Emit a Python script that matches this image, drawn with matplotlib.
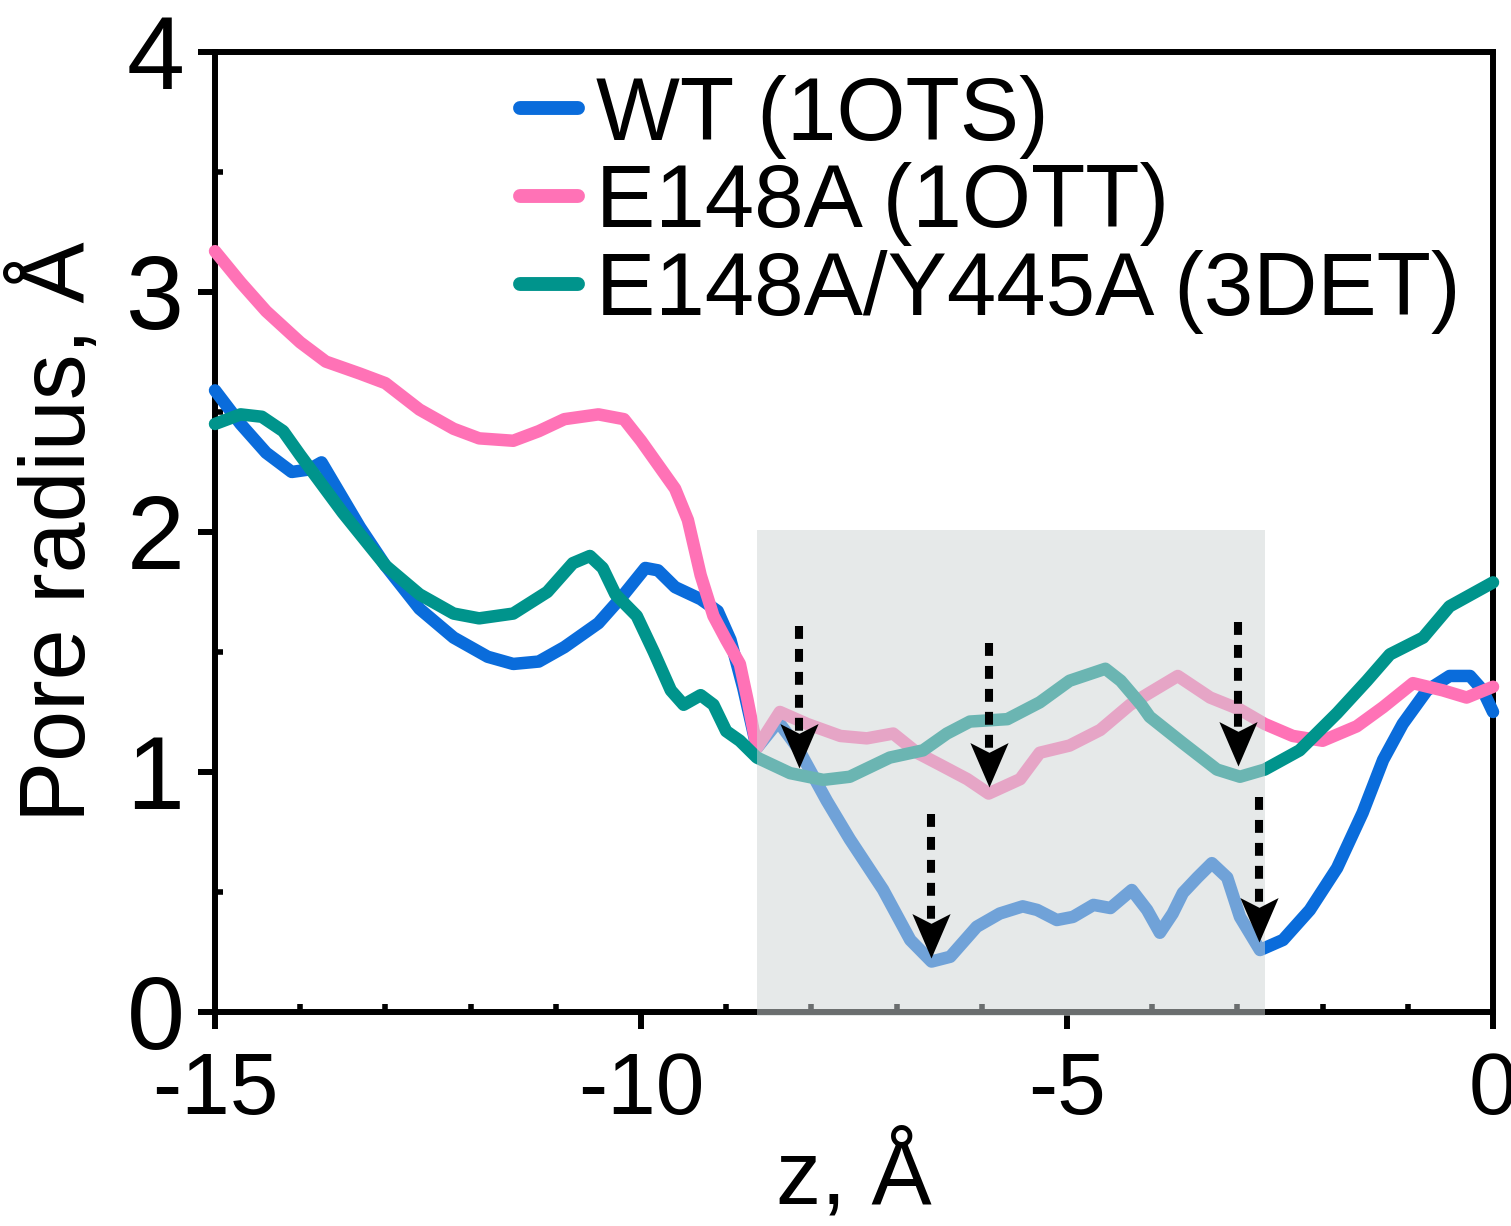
import matplotlib
matplotlib.use("Agg")
import matplotlib.pyplot as plt
from matplotlib.path import Path
from matplotlib.patches import Rectangle
from matplotlib.ticker import MultipleLocator

plt.rcParams['font.family'] = ['Liberation Sans', 'DejaVu Sans']
plt.rcParams['axes.unicode_minus'] = False

# WT (1OTS)
wt_z = [-15, -14.7, -14.4, -14.1, -13.9, -13.75, -13.6, -13.3, -13.0, -12.6,
        -12.2, -11.8, -11.5, -11.2, -10.9, -10.5, -10.2, -9.95, -9.8, -9.6,
        -9.3, -9.1, -8.95, -8.8, -8.64, -8.39, -8.16, -7.82, -7.55, -7.16,
        -6.84, -6.59, -6.37, -6.06, -5.79, -5.52, -5.35, -5.12, -4.93, -4.69,
        -4.49, -4.24, -4.06, -3.91, -3.76, -3.64, -3.47, -3.30, -3.12, -2.97,
        -2.735, -2.465, -2.15, -1.83, -1.53, -1.29, -1.06, -0.775, -0.51, -0.27,
        -0.12, 0.0]
wt_r = [2.59, 2.45, 2.33, 2.25, 2.26, 2.29, 2.20, 2.02, 1.86, 1.68,
        1.56, 1.48, 1.45, 1.46, 1.52, 1.62, 1.74, 1.85, 1.84, 1.77,
        1.72, 1.67, 1.55, 1.35, 1.10, 1.21, 1.10, 0.88, 0.72, 0.51,
        0.30, 0.21, 0.23, 0.355, 0.41, 0.44, 0.425, 0.383, 0.396, 0.446,
        0.433, 0.508, 0.425, 0.33, 0.41, 0.496, 0.56, 0.62, 0.56, 0.396,
        0.258, 0.30, 0.425, 0.60, 0.83, 1.05, 1.20, 1.34, 1.40, 1.40,
        1.34, 1.25]

# E148A (1OTT)
e_z = [-15, -14.7, -14.4, -14.0, -13.7, -13.3, -13.0, -12.6, -12.2, -11.9,
       -11.5, -11.2, -10.9, -10.5, -10.2, -10.0, -9.8, -9.6, -9.45, -9.3,
       -9.15, -9.0, -8.84, -8.75, -8.64, -8.37, -8.05, -7.66, -7.35, -7.04,
       -6.76, -6.49, -6.17, -5.92, -5.55, -5.32, -4.97, -4.61, -4.26, -4.03,
       -3.70, -3.32, -2.97, -2.68, -2.35, -2.0, -1.60, -1.29, -0.94, -0.59,
       -0.31, 0.0]
e_r = [3.17, 3.04, 2.92, 2.79, 2.71, 2.66, 2.62, 2.51, 2.43, 2.39,
       2.38, 2.42, 2.47, 2.49, 2.47, 2.38, 2.28, 2.18, 2.05, 1.82,
       1.65, 1.55, 1.45, 1.30, 1.10, 1.25, 1.20, 1.15, 1.14, 1.16,
       1.08, 1.03, 0.97, 0.91, 0.97, 1.08, 1.11, 1.175, 1.28, 1.33,
       1.40, 1.31, 1.26, 1.20, 1.15, 1.13, 1.19, 1.27, 1.37, 1.34,
       1.31, 1.355]

# E148A/Y445A (3DET)
ey_z = [-15, -14.7, -14.45, -14.2, -14.0, -13.5, -13.0, -12.6, -12.2, -11.9,
        -11.5, -11.1, -10.8, -10.6, -10.45, -10.3, -10.05, -9.85, -9.65, -9.5,
        -9.3, -9.15, -9.0, -8.84, -8.64, -8.25, -7.86, -7.55, -7.08, -6.69,
        -6.41, -6.14, -5.70, -5.32, -4.97, -4.55, -4.37, -4.13, -4.03, -3.64,
        -3.24, -2.97, -2.68, -2.27, -1.83, -1.48, -1.21, -0.82, -0.51, 0.0]
ey_r = [2.45, 2.49, 2.48, 2.42, 2.32, 2.08, 1.86, 1.74, 1.66, 1.64,
        1.66, 1.75, 1.87, 1.90, 1.85, 1.74, 1.65, 1.50, 1.34, 1.28,
        1.32, 1.28, 1.17, 1.13, 1.06, 0.995, 0.967, 0.98, 1.06, 1.09,
        1.16, 1.21, 1.22, 1.29, 1.38, 1.43, 1.38, 1.28, 1.23, 1.12,
        1.01, 0.98, 1.01, 1.09, 1.245, 1.38, 1.49, 1.56, 1.69, 1.79]

labels = ['WT (1OTS)', 'E148A (1OTT)', 'E148A/Y445A (3DET)']
colors = ['#0a6cdb', '#ff72b6', '#00948c']

# constriction region and arrows (z, top, tip)
region = (-8.64, -2.68, 2.01)
arrow_z = [-8.146, -5.915, -2.993, -6.596, -2.746]
arrow_top = [1.61, 1.537, 1.625, 0.825, 0.896]
arrow_tip = [1.017, 0.9375, 1.025, 0.225, 0.29]

fig = plt.figure(figsize=(15.11, 12.26), dpi=100)
ax = fig.add_axes([0.1423, 0.1746, 0.8458, 0.783])

for z, r, lab, c in zip([wt_z, e_z, ey_z], [wt_r, e_r, ey_r], labels, colors):
    ax.plot(z, r, color=c, lw=9, label=lab, solid_capstyle='round',
            solid_joinstyle='round', clip_on=False, zorder=3)

ax.add_patch(Rectangle((region[0], -0.016), region[1] - region[0], region[2] + 0.016,
                       facecolor='#cfd5d6', edgecolor='none', alpha=0.52, zorder=4,
                       clip_on=False))

head = Path([(0, 0), (-0.43, 1.0), (0, 0.78), (0.43, 1.0), (0, 0)],
            [Path.MOVETO, Path.LINETO, Path.LINETO, Path.LINETO, Path.CLOSEPOLY])
for z, t, p in zip(arrow_z, arrow_top, arrow_tip):
    ax.plot([z, z], [t, p + 0.14], color='black', lw=5.8,
            linestyle=(0, (1.6, 1.25)), dash_capstyle='butt', zorder=5)
    ax.plot([z], [p], marker=head, markersize=64, color='black',
            markeredgewidth=0, linestyle='none', zorder=6)

ax.set_xlim(-15, 0)
ax.set_ylim(0, 4)
ax.xaxis.set_minor_locator(MultipleLocator(1))
ax.yaxis.set_major_locator(MultipleLocator(1))
ax.yaxis.set_minor_locator(MultipleLocator(0.5))
ax.set_xticks([-15, -10, -5, 0])
ax.set_xticklabels(['-15', '-10', '-5', '0'])

for s in ax.spines.values():
    s.set_linewidth(4.3)
ax.tick_params(which='major', direction='out', length=12, width=4.3)
ax.tick_params(which='minor', direction='in', length=6, width=4)
ax.tick_params(axis='x', which='major', labelsize=63, pad=16)
ax.tick_params(axis='y', which='major', labelsize=75, pad=10)

ax.set_xlabel('z, Å', fontsize=65, labelpad=0)
ax.set_ylabel('Pore radius, Å', fontsize=66, labelpad=16)

leg = ax.legend(loc='upper left', bbox_to_anchor=(0.211, 1.0135), frameon=False,
                fontsize=64, handlelength=0.65, handletextpad=0.2,
                labelspacing=0.04, borderaxespad=0)
for h in leg.get_lines():
    h.set_linewidth(10)
    h.set_solid_capstyle('round')

fig.savefig('out.png', dpi=100)
